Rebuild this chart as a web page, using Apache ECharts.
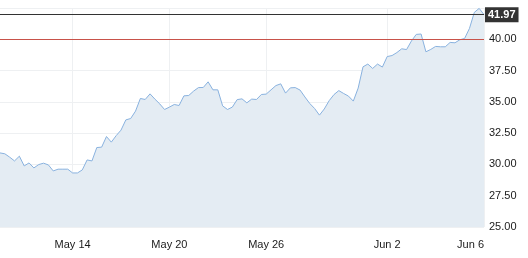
<!DOCTYPE html>
<html>
<head>
<meta charset="utf-8">
<script src="https://cdn.jsdelivr.net/npm/echarts@6/dist/echarts.min.js"></script>
<style>
html,body{margin:0;padding:0;background:#fff;}
#chart{width:528px;height:258px;}
</style>
</head>
<body>
<div id="chart"></div>
<script>
// Trading days shown on the axis (5 samples per day, last day = end point)
const tradingDays = ['May 9','May 12','May 13','May 14','May 15','May 16','May 19','May 20','May 21','May 22','May 23','May 26','May 27','May 28','May 29','May 30','Jun 2','Jun 3','Jun 4','Jun 5','Jun 6'];
const samplesPerDay = 5;
const tickLabels = ['May 14','May 20','May 26','Jun 2','Jun 6'];
const yTicks = [25, 27.5, 30, 32.5, 35, 37.5, 40, 42.5];
const prices = [
  30.92,30.85,30.58,30.28,30.66,29.88,30.12,29.72,29.99,30.10,
  29.96,29.48,29.62,29.62,29.62,29.32,29.32,29.56,30.36,30.28,
  31.35,31.38,32.23,31.78,32.30,32.74,33.56,33.67,34.26,35.27,
  35.19,35.64,35.22,34.84,34.39,34.58,34.79,34.71,35.48,35.51,
  35.86,36.14,36.15,36.60,35.96,35.96,34.68,34.39,34.58,35.18,
  35.24,34.92,35.22,35.19,35.59,35.62,35.96,36.30,36.44,35.70,
  36.12,36.14,35.94,35.39,34.87,34.47,33.94,34.43,35.09,35.58,
  35.90,35.67,35.46,35.06,36.10,37.80,38.02,37.67,38.02,37.78,
  38.62,38.70,38.94,39.24,39.18,39.86,40.39,40.42,39.00,39.19,
  39.43,39.40,39.40,39.75,39.72,39.96,40.07,40.87,42.15,42.47,
  41.97
];
const lastPrice = 41.97;
const refLevel = 40.00;

// categories: one per sample
const categories = [];
tradingDays.forEach(function (d, di) {
  const n = di === tradingDays.length - 1 ? 1 : samplesPerDay;
  for (let s = 0; s < n; s++) categories.push(d + '|' + s);
});
const tickIdx = categories.map(function (c, i) {
  const p = c.split('|');
  return (p[1] === '0' && tickLabels.indexOf(p[0]) >= 0) ? i : -1;
}).filter(function (i) { return i >= 0; });

const chart = echarts.init(document.getElementById('chart'));
chart.setOption({
  animation: false,
  grid: { left: 0, right: 44, top: 8, bottom: 31 },
  xAxis: {
    type: 'category',
    data: categories,
    boundaryGap: false,
    axisLine: { show: false },
    axisTick: { show: false },
    axisLabel: {
      interval: function (i) { return tickIdx.indexOf(i) >= 0; },
      formatter: function (v) { return v.split('|')[0]; },
      alignMaxLabel: 'right',
      color: '#1a1a1a',
      fontFamily: 'Liberation Sans, Arial, sans-serif',
      fontSize: 11,
      margin: 12
    },
    splitLine: {
      show: true,
      interval: function (i) { return tickIdx.indexOf(i) >= 0; },
      lineStyle: { color: '#eef0f2', width: 1 }
    }
  },
  yAxis: {
    type: 'value',
    position: 'right',
    min: yTicks[0],
    max: yTicks[yTicks.length - 1],
    interval: 2.5,
    axisLine: { show: false },
    axisTick: { show: false },
    axisLabel: {
      formatter: function (v) { return v >= 42.5 ? '' : v.toFixed(2); },
      color: '#1a1a1a',
      fontFamily: 'Liberation Sans, Arial, sans-serif',
      fontSize: 11,
      margin: 5
    },
    splitLine: { lineStyle: { color: '#eef0f2', width: 1 } }
  },
  series: [{
    type: 'line',
    data: prices,
    symbol: 'none',
    smooth: false,
    lineStyle: { color: '#89b2df', width: 1 },
    areaStyle: { color: '#e4ecf3', opacity: 1 },
    markLine: {
      silent: true,
      symbol: 'none',
      animation: false,
      data: [
        { yAxis: refLevel, lineStyle: { color: '#c8524a', width: 1, type: 'solid' }, label: { show: false } },
        { yAxis: lastPrice, lineStyle: { color: '#333', width: 1, type: 'solid' },
          label: { show: true, position: 'end', distance: 1, formatter: lastPrice.toFixed(2),
                   color: '#fff', backgroundColor: '#333', fontWeight: 'bold',
                   fontFamily: 'Liberation Sans, Arial, sans-serif', fontSize: 11, padding: [2, 3, 2, 3] } }
      ]
    }
  }]
});
</script>
</body>
</html>
